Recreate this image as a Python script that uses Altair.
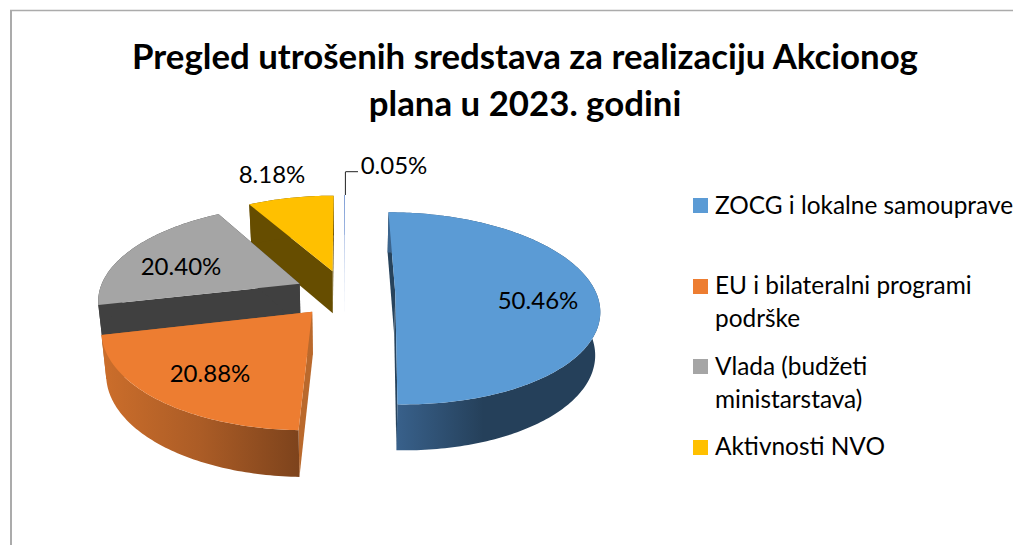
import math
import altair as alt

# ---- chart values ----
categories = ["ZOCG i lokalne samouprave", "EU i bilateralni programi podrške",
              "Vlada (budžeti ministarstava)", "Aktivnosti NVO", "Ostalo"]
shares = [50.46, 20.88, 20.40, 8.18, 0.05]
share_labels = ["50.46%", "20.88%", "20.40%", "8.18%", "0.05%"]
top_colors = ["#5B9BD5", "#ED7D31", "#A5A5A5", "#FFC000", "#4472C4"]
cut_colors = ["#27435C", "#BA692C", "#404040", "#664D00", "#9DB4DF"]
title_lines = ["Pregled utrošenih sredstava za realizaciju Akcionog", "plana u 2023. godini"]
legend_lines = [["ZOCG i lokalne samouprave"], ["EU i bilateralni programi", "podrške"],
                ["Vlada (budžeti", "ministarstava)"], ["Aktivnosti NVO"]]

OFF = 8
X0, Y0 = 345 - OFF, 293 - OFF
RX, RY, P, EXPL = 201.0, 93.6, 0.156, 0.25
KX = 0.98
FONT = "Lato"


def project(u, v):
    s = 1 / (1 + P * v)
    return X0 + RX * u * s, Y0 - RY * v * s


def drop(pt):
    x, y = pt
    return X0 + (x - X0) * KX, y + 42 + 0.03 * (y + OFF - 272)


def geo(rings):
    return alt.InlineData(
        values={"type": "FeatureCollection",
                "features": [{"type": "Feature", "properties": {},
                              "geometry": {"type": "Polygon", "coordinates": [r + [r[0]]]}}
                             for r in rings]},
        format=alt.DataFormat(type="json", property="features"))


def poly(rings, fill):
    return alt.Chart(geo(rings)).mark_geoshape(fill=fill, stroke=None).project(
        type="identity", scale=1, translate=[0, 0])


def grad(stops):
    return alt.Gradient(gradient="linear", x1=0, x2=1, y1=0, y2=0,
                        stops=[alt.GradientStop(offset=o, color=c) for o, c in stops])


side_fills = [
    grad([(0, "#3D668F"), (0.05, "#38608A"), (0.45, "#25405A"), (1, "#25405A")]),
    grad([(0, "#CC6E2B"), (0.5, "#AB5C26"), (1, "#7D431C")]),
    "#404040",
    "#664D00",
    "#9DB4DF",
]

total = sum(shares)
layers = []
spans = []
a = 0.0
for v in shares:
    b = a + v / total * 360
    spans.append((a, b))
    a = b

# back-to-front painting order: sliver, yellow, gray, blue, orange
for i in [4, 3, 2, 0, 1]:
    a0, a1 = spans[i]
    m = math.radians((a0 + a1) / 2)
    eu, ev = EXPL * math.sin(m), EXPL * math.cos(m)
    n = max(int(a1 - a0), 2)
    arc = []
    for k in range(n + 1):
        t = math.radians(a0 + (a1 - a0) * k / n)
        arc.append(project(eu + math.sin(t), ev + math.cos(t)))
    apex = project(eu, ev)
    arc = [list(p) for p in arc]
    apex = list(apex)
    bottom = [list(drop(p)) for p in arc]
    bapex = list(drop(apex))
    # cut faces at both radial edges
    cuts = [[apex, arc[0], bottom[0], bapex], [apex, arc[-1], bottom[-1], bapex]]
    layers.append(poly(cuts, cut_colors[i]))
    # outer wall
    layers.append(poly([arc + bottom[::-1]], side_fills[i]))
    # top face
    layers.append(poly([[apex] + arc], top_colors[i]))


def text(lines, x, y, size, weight="normal", align="left", line_height=None):
    kw = {}
    if line_height:
        kw["lineHeight"] = line_height
    return alt.Chart(alt.InlineData(values=[{}])).mark_text(
        text=lines, font=FONT, fontSize=size, fontWeight=weight, align=align,
        baseline="alphabetic", color="#000000", **kw
    ).encode(x=alt.value(x - OFF), y=alt.value(y - OFF))


def rule(x, y, x2=None, y2=None, color="#000000", width=1.0):
    enc = dict(x=alt.value(x - OFF), y=alt.value(y - OFF))
    if x2 is not None:
        enc["x2"] = alt.value(x2 - OFF)
    if y2 is not None:
        enc["y2"] = alt.value(y2 - OFF)
    return alt.Chart(alt.InlineData(values=[{}])).mark_rule(color=color, strokeWidth=width).encode(**enc)


# frame
layers.append(rule(11, 10, y2=546, color="#ABABAB", width=2))
layers.append(rule(10, 10.5, x2=1013, color="#ABABAB", width=1.4))

# leader of the smallest slice
layers.append(rule(345.4, 172, y2=195, color="#222222", width=1))
layers.append(rule(345.4, 171.7, x2=358, color="#222222", width=1))

# title
layers.append(text(title_lines[0], 525, 69, 34.8, "bold", "center"))
layers.append(text(title_lines[1], 525, 116, 34.8, "bold", "center"))

# data labels
label_pos = [(538, 308.5), (210, 382), (181, 274.5), (272, 182.5), (394, 174)]
for s, (x, y) in zip(share_labels, label_pos):
    layers.append(text(s, x, y, 24, align="center"))

# legend
swatch_y = [205.5, 286.5, 366.5, 447.5]
text_y = [214, 294, 375, 455]
for i, lines in enumerate(legend_lines):
    layers.append(alt.Chart(alt.InlineData(values=[{}])).mark_square(
        size=225, color=top_colors[i], opacity=1, stroke=None
    ).encode(x=alt.value(700.5 - OFF), y=alt.value(swatch_y[i] - OFF)))
    layers.append(text(lines, 715, text_y[i], 24.4, line_height=32.5))

chart = alt.layer(*layers).properties(
    width=1005, height=537, padding=0, background="white",
    autosize=alt.AutoSizeParams(type="none")
).configure_view(stroke=None)

chart.save("out.html", embed_options={"renderer": "svg", "actions": False})
